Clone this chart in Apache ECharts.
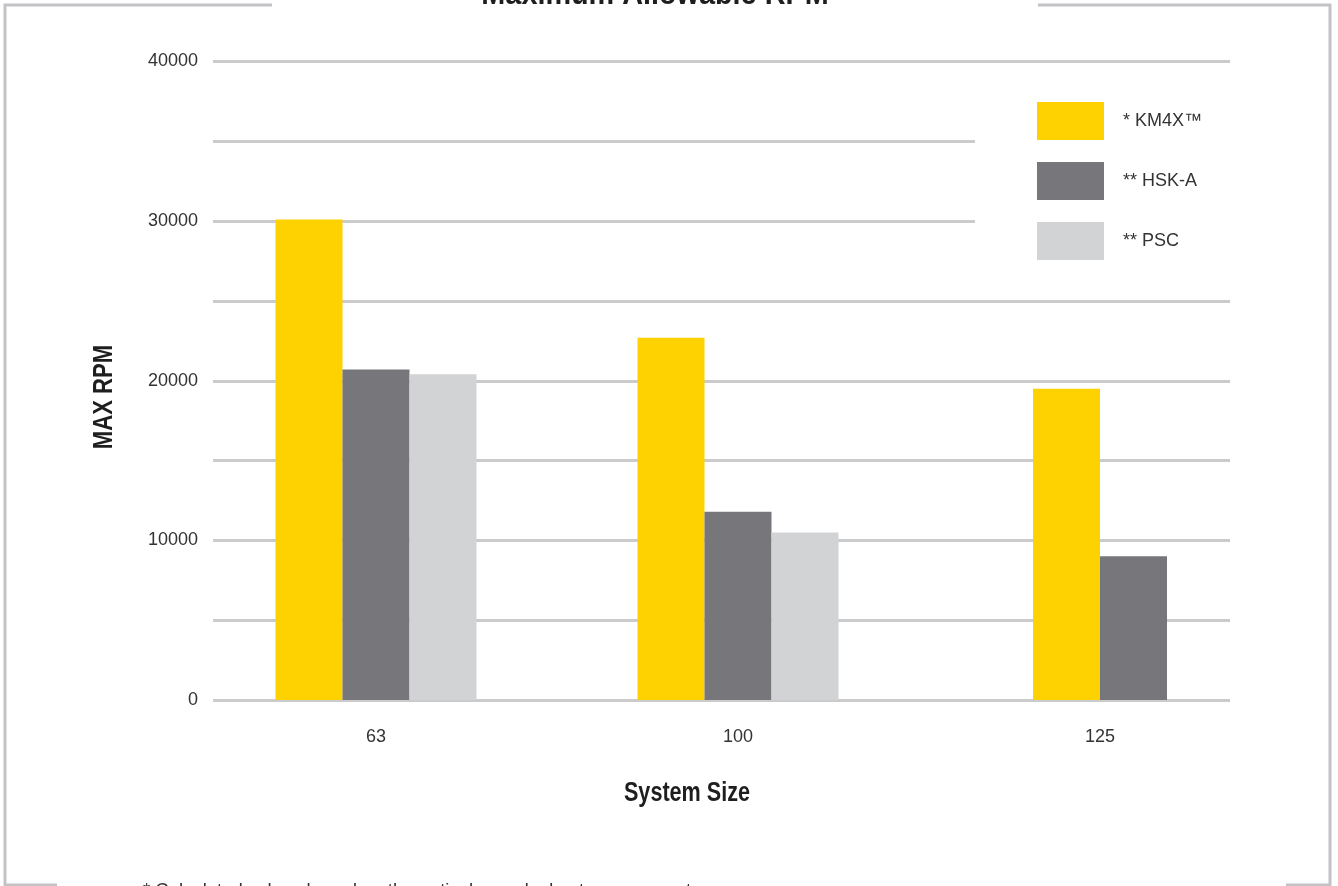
<!DOCTYPE html>
<html>
<head>
<meta charset="utf-8">
<title>Maximum Allowable RPM</title>
<script src="https://cdn.jsdelivr.net/npm/echarts@6/dist/echarts.min.js"></script>
<style>
  html, body { margin: 0; padding: 0; background: #fff; }
  #max-rpm-chart { width: 1338px; height: 886px; }
</style>
</head>
<body>
<div id="max-rpm-chart"></div>
<script>
// system sizes on the x axis
const categories = ["63", "100", "125"];
// max rpm per system (PSC has no 125 size)
const km4x = [30100, 22700, 19500];
const hskA = [20700, 11800, 9000];
const psc = [20400, 10500, null];
const seriesNames = ["* KM4X\u2122", "** HSK-A", "** PSC"];
const yTicks = [0, 10000, 20000, 30000, 40000];

const colors = ["#FED100", "#77777B", "#D2D3D5"];
const boldFont = "'Liberation Sans', Arial, Helvetica, sans-serif";
const plain = "'Liberation Sans', Arial, Helvetica, sans-serif";
const frameColor = "#C3C3C7";

// groups with all three values sit on axis 0, the others on axis 1 so they stay centred
const full = categories.map((c, i) => psc[i] != null);
function part(arr, onFull) {
  return arr.map((v, i) => (full[i] === onFull ? v : null));
}

function bar(name, data, color, xIndex) {
  return {
    name: name,
    type: "bar",
    xAxisIndex: xIndex,
    yAxisIndex: 0,
    barWidth: 67,
    barGap: "0%",
    data: data,
    itemStyle: { color: color },
    emphasis: { disabled: true },
  };
}

const chartDom = echarts.init(document.getElementById("max-rpm-chart"));
chartDom.setOption({
  animation: false,
  backgroundColor: "#fff",
  legend: {
    orient: "vertical",
    left: 975,
    top: 77,
    backgroundColor: "#fff",
    padding: [25, 40, 25, 62],
    itemWidth: 67,
    itemHeight: 38,
    itemGap: 22,
    icon: "rect",
    selectedMode: false,
    data: seriesNames,
    textStyle: {
      color: "#333",
      fontSize: 18,
      fontFamily: plain,
      padding: [0, 0, 0, 14],
    },
  },
  grid: [
    // bars
    { left: 195, right: 57, top: 61.5, bottom: 186 },
    // grid lines and y labels
    { left: 213, right: 108, top: 61.5, bottom: 186 },
  ],
  xAxis: [
    {
      type: "category",
      gridIndex: 0,
      data: categories,
      axisLine: { show: false },
      axisTick: { show: false },
      axisLabel: {
        margin: 28,
        color: "#333",
        fontSize: 18,
        fontFamily: plain,
      },
    },
    {
      type: "category",
      gridIndex: 0,
      data: categories,
      show: false,
    },
    {
      type: "category",
      gridIndex: 1,
      data: categories,
      show: false,
    },
  ],
  yAxis: [
    {
      type: "value",
      gridIndex: 0,
      min: 0,
      max: 40000,
      show: false,
    },
    {
      type: "value",
      gridIndex: 1,
      min: 0,
      max: 40000,
      interval: 5000,
      axisLine: { show: false },
      axisTick: { show: false },
      axisLabel: {
        margin: 15,
        color: "#333",
        fontSize: 18,
        fontFamily: plain,
        formatter: (v) => (yTicks.indexOf(v) >= 0 ? String(v) : ""),
      },
      splitLine: {
        show: true,
        lineStyle: { color: "#CBCBCB", width: 3 },
      },
    },
  ],
  series: [
    bar(seriesNames[0], part(km4x, true), colors[0], 0),
    bar(seriesNames[1], part(hskA, true), colors[1], 0),
    bar(seriesNames[2], part(psc, true), colors[2], 0),
    bar(seriesNames[0], part(km4x, false), colors[0], 1),
    bar(seriesNames[1], part(hskA, false), colors[1], 1),
  ],
  graphic: [
    // frame round the chart, broken for the title
    { type: "polyline", shape: { points: [[272, 5], [5, 5], [5, 885], [57, 885]] }, style: { stroke: frameColor, lineWidth: 3, fill: null } },
    { type: "polyline", shape: { points: [[1038, 5], [1330, 5], [1330, 885], [1286, 885]] }, style: { stroke: frameColor, lineWidth: 3, fill: null } },
    // condensed bold headings: squeeze a normal bold face sideways
    {
      type: "text",
      x: 655,
      y: 11,
      scaleX: 0.9,
      style: {
        text: "Maximum Allowable RPM",
        align: "center",
        verticalAlign: "bottom",
        fill: "#1E1E1E",
        font: "bold 32px " + boldFont,
      },
    },
    {
      type: "text",
      x: 104,
      y: 397,
      rotation: Math.PI / 2,
      scaleX: 0.79,
      style: {
        text: "MAX RPM",
        align: "center",
        verticalAlign: "middle",
        fill: "#1E1E1E",
        font: "bold 28px " + boldFont,
      },
    },
    {
      type: "text",
      x: 687,
      y: 794,
      scaleX: 0.8,
      style: {
        text: "System Size",
        align: "center",
        verticalAlign: "middle",
        fill: "#1E1E1E",
        font: "bold 27px " + boldFont,
      },
    },
    {
      type: "text",
      x: 143,
      y: 881,
      style: {
        text: "* Calculated values based on theoretical speeds due to component",
        align: "left",
        verticalAlign: "top",
        fill: "#333",
        font: "18.5px " + plain,
      },
    },
  ],
});

window.addEventListener("resize", () => {
  chartDom.resize();
});
</script>
</body>
</html>
